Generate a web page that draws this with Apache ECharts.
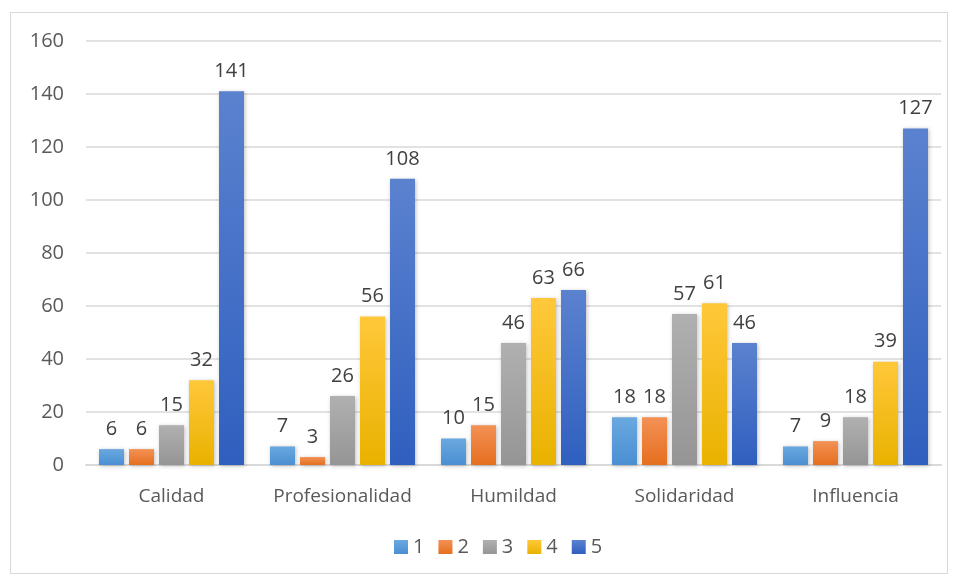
<!DOCTYPE html>
<html>
<head>
<meta charset="utf-8">
<script src="https://cdn.jsdelivr.net/npm/echarts@6/dist/echarts.min.js"></script>
<style>
  html, body { margin: 0; padding: 0; background: #fff; }
  #frame {
    position: absolute; left: 10px; top: 12px; width: 938px; height: 562px;
    border: 1px solid #d9d9d9; box-sizing: border-box;
  }
  #chart { position: absolute; left: 0; top: 0; width: 957px; height: 581px; }
</style>
</head>
<body>
<div id="frame"></div>
<div id="chart"></div>
<script>
const categories = ['Calidad', 'Profesionalidad', 'Humildad', 'Solidaridad', 'Influencia']
const seriesNames = ['1', '2', '3', '4', '5']
const values1 = [6, 7, 10, 18, 7]
const values2 = [6, 3, 15, 18, 9]
const values3 = [15, 26, 46, 57, 18]
const values4 = [32, 56, 63, 61, 39]
const values5 = [141, 108, 66, 46, 127]
const yTicks = { min: 0, max: 160, interval: 20 }

const colors = [
  ['#6aa8e0', '#4a8fd2'],
  ['#f39155', '#e56f1f'],
  ['#b0b0b0', '#959595'],
  ['#ffc83a', '#e9b200'],
  ['#5b82cf', '#2f5fbf']
]
const allValues = [values1, values2, values3, values4, values5]
const font = 'Open Sans'

const chart = echarts.init(document.getElementById('chart'))

const series = allValues.map((vals, i) => ({
  name: seriesNames[i],
  type: 'bar',
  data: vals,
  barWidth: 25,
  barGap: '20%',
  itemStyle: {
    color: new echarts.graphic.LinearGradient(0, 0, 0, 1, [
      { offset: 0, color: colors[i][0] },
      { offset: 1, color: colors[i][1] }
    ]),
    shadowColor: 'rgba(0,0,0,0.25)',
    shadowBlur: 4,
    shadowOffsetX: 1,
    shadowOffsetY: 1
  },
  label: {
    show: true,
    position: 'top',
    distance: 10,
    color: '#404040',
    fontSize: 20,
    fontFamily: font
  }
}))

chart.setOption({
  animation: false,
  color: colors.map(c => c[1]),
  grid: { left: 86, right: 16, top: 41, bottom: 116 },
  legend: {
    bottom: 19,
    left: 389,
    itemWidth: 14,
    itemHeight: 14,
    itemGap: 14,
    icon: 'rect',
    textStyle: { color: '#595959', fontSize: 20, fontFamily: font },
    data: seriesNames
  },
  xAxis: {
    type: 'category',
    data: categories,
    axisLine: { lineStyle: { color: '#d9d9d9', width: 2 } },
    axisTick: { show: false },
    axisLabel: { interval: 0, color: '#595959', fontSize: 19, fontFamily: font, margin: 22 }
  },
  yAxis: {
    type: 'value',
    min: yTicks.min,
    max: yTicks.max,
    interval: yTicks.interval,
    axisLine: { show: false },
    axisTick: { show: false },
    splitLine: { lineStyle: { color: '#d9d9d9', width: 1.5 } },
    axisLabel: { color: '#595959', fontSize: 20, fontFamily: font, margin: 22 }
  },
  series
})
</script>
</body>
</html>
